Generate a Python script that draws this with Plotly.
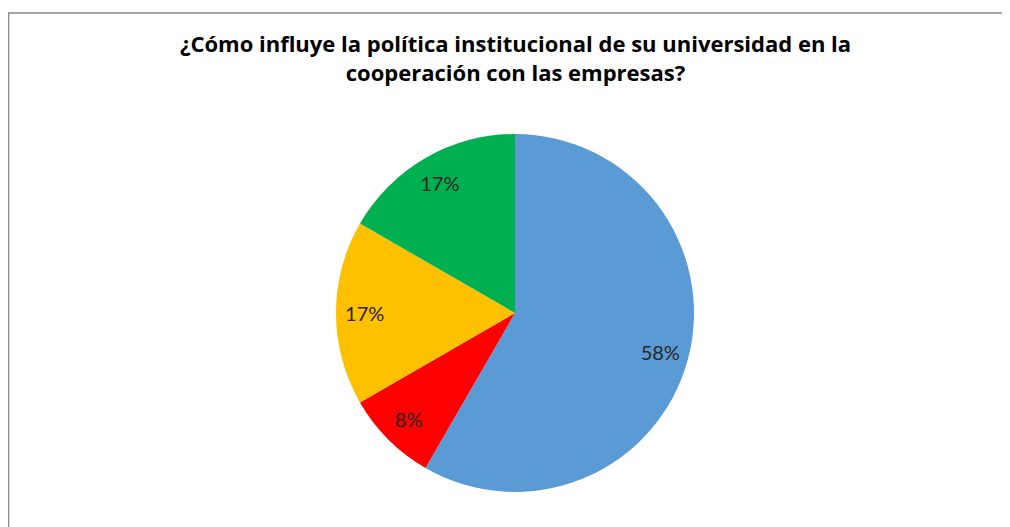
import plotly.graph_objects as go

labels = ["Favorable", "Desfavorable", "Neutral", "No sabe"]
values = [7, 1, 2, 2]
colors = ["#5B9BD5", "#FF0000", "#FFC000", "#00B050"]
title_text = "¿Cómo influye la política institucional de su universidad en la<br>cooperación con las empresas?"

W, H = 1010, 527
OFF = 8  # page body margin
cx, cy, rad = 515 - OFF, 313 - OFF, 179
dom_x = [(cx - rad) / W, (cx + rad) / W]
dom_y = [(H - (cy + rad)) / H, (H - (cy - rad)) / H]

fig = go.Figure()
fig.add_trace(go.Pie(
    labels=labels, values=values, sort=False, direction="clockwise", rotation=0,
    marker=dict(colors=colors, line=dict(width=0)),
    textinfo="none", showlegend=False, domain=dict(x=dom_x, y=dom_y),
    hoverinfo="label+percent",
))
fig.add_trace(go.Pie(
    labels=labels, values=values, sort=False, direction="clockwise", rotation=0,
    hole=0.68,
    marker=dict(colors=["rgba(0,0,0,0)"] * 4, line=dict(width=0)),
    texttemplate="%{percent:.0%}", textposition="inside",
    insidetextorientation="horizontal",
    textfont=dict(family="Lato", size=20, color="#262626"),
    showlegend=False, domain=dict(x=dom_x, y=dom_y), hoverinfo="skip",
))

fig.update_layout(
    width=W, height=H,
    margin=dict(l=0, r=0, t=0, b=0),
    paper_bgcolor="white", plot_bgcolor="white",
    title=dict(text=title_text, x=(515.5 - OFF) / W, xanchor="center", xref="paper",
               y=1 - 44 / H, yref="container", yanchor="top",
               font=dict(family="Open Sans", size=22, color="#000000", weight="bold")),
    shapes=[dict(type="rect", xref="paper", yref="paper",
                 x0=0.7 / W, x1=1.02, y0=-0.05, y1=(H - 13 + OFF) / H,
                 line=dict(color="#8c8c8c", width=1.3), fillcolor="rgba(0,0,0,0)",
                 layer="below")],
)

fig.write_html("out.html")
